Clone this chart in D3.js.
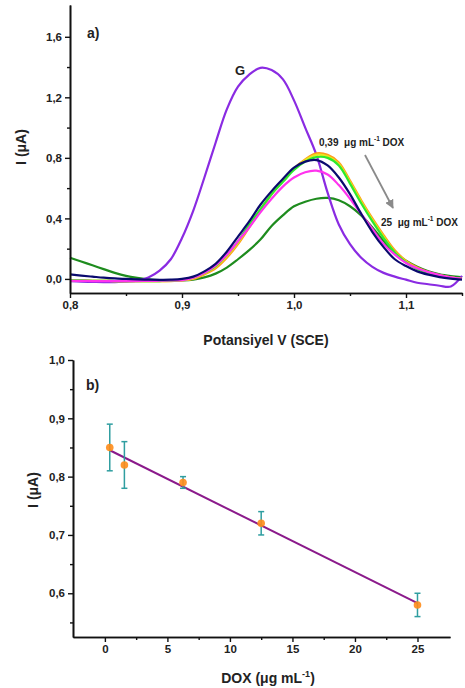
<!DOCTYPE html>
<html>
<head>
<meta charset="utf-8">
<script src="https://cdn.jsdelivr.net/npm/d3@7"></script>
<style>
  body { margin: 0; background: #fff; }
  svg text { font-family: "Liberation Sans", Arial, sans-serif; font-weight: bold; fill: #222; }
</style>
</head>
<body>
<svg width="465" height="688"></svg>
<script>
// ---- panel a) voltammograms ----
const potential = [0.80, 0.81, 0.82, 0.83, 0.84, 0.85, 0.86, 0.87, 0.88, 0.89,
                   0.90, 0.91, 0.92, 0.93, 0.94, 0.95, 0.96, 0.97, 0.98, 0.99,
                   1.00, 1.01, 1.02, 1.03, 1.04, 1.05, 1.06, 1.07, 1.08, 1.09,
                   1.10, 1.11, 1.12, 1.13, 1.14, 1.15];

const curveG = [-0.015, -0.018, -0.02, -0.021, -0.022, -0.018, -0.012, 0.01, 0.055, 0.13,
                0.27, 0.45, 0.67, 0.9, 1.12, 1.27, 1.35, 1.395, 1.38, 1.32,
                1.18, 1.0, 0.82, 0.57, 0.36, 0.23, 0.14, 0.08, 0.04, 0.015,
                -0.005, -0.025, -0.035, -0.045, -0.05, 0.02];
const curveOrange = [-0.01, -0.01, -0.012, -0.013, -0.014, -0.015, -0.015, -0.015, -0.015, -0.014,
                     -0.01, 0.0, 0.03, 0.07, 0.14, 0.23, 0.34, 0.45, 0.56, 0.65,
                     0.73, 0.79, 0.83, 0.82, 0.77, 0.65, 0.52, 0.4, 0.29, 0.19,
                     0.12, 0.075, 0.045, 0.025, 0.01, 0.0];
const curveYellow = [-0.01, -0.01, -0.012, -0.013, -0.014, -0.015, -0.015, -0.015, -0.015, -0.013,
                     -0.008, 0.004, 0.035, 0.08, 0.15, 0.24, 0.35, 0.46, 0.56, 0.65,
                     0.73, 0.785, 0.82, 0.81, 0.76, 0.64, 0.51, 0.39, 0.28, 0.18,
                     0.115, 0.07, 0.04, 0.02, 0.008, 0.0];
const curveLime = [-0.01, -0.01, -0.012, -0.013, -0.014, -0.015, -0.015, -0.015, -0.014, -0.012,
                   -0.006, 0.008, 0.04, 0.085, 0.16, 0.25, 0.36, 0.46, 0.56, 0.64,
                   0.72, 0.775, 0.805, 0.8, 0.75, 0.63, 0.5, 0.38, 0.27, 0.175,
                   0.11, 0.065, 0.037, 0.018, 0.006, 0.0];
const curveNavy = [0.03, 0.022, 0.015, 0.008, 0.003, 0.0, -0.003, -0.005, -0.006, -0.005,
                   0.0, 0.015, 0.05, 0.1, 0.18, 0.28, 0.38, 0.49, 0.58, 0.66,
                   0.735, 0.775, 0.785, 0.75, 0.67, 0.56, 0.43, 0.31, 0.21, 0.13,
                   0.085, 0.05, 0.028, 0.012, 0.002, -0.004];
const curveMagenta = [-0.012, -0.013, -0.014, -0.015, -0.015, -0.015, -0.014, -0.013, -0.012, -0.01,
                      -0.008, 0.008, 0.04, 0.09, 0.16, 0.25, 0.34, 0.44, 0.53, 0.61,
                      0.67, 0.705, 0.715, 0.69, 0.62, 0.53, 0.43, 0.33, 0.23, 0.16,
                      0.105, 0.07, 0.045, 0.025, 0.01, 0.0];
const curveDarkGreen = [0.14, 0.115, 0.09, 0.065, 0.04, 0.02, 0.007, -0.002, -0.008, -0.01,
                        -0.01, -0.005, 0.01, 0.035, 0.075, 0.13, 0.19, 0.26, 0.35, 0.42,
                        0.48, 0.51, 0.53, 0.535, 0.52, 0.48, 0.42, 0.34, 0.25, 0.17,
                        0.12, 0.08, 0.05, 0.03, 0.018, 0.01];

const seriesA = [
  { name: "dox25", values: curveDarkGreen, color: "#1e8c1e" },
  { name: "G", values: curveG, color: "#8a2be2" },
  { name: "orange", values: curveOrange, color: "#ff9a1a" },
  { name: "yellow", values: curveYellow, color: "#e6e620" },
  { name: "lime", values: curveLime, color: "#2ee82e" },
  { name: "magenta", values: curveMagenta, color: "#ff33ee" },
  { name: "navy", values: curveNavy, color: "#0a0a6e" }
];

// ---- panel b) calibration ----
const doxConc = [0.39, 1.56, 6.25, 12.5, 25];
const doxCurrent = [0.85, 0.82, 0.79, 0.72, 0.58];
const doxError = [0.04, 0.04, 0.01, 0.02, 0.02];

const svg = d3.select("svg");
const fmt = d => d3.format(".1f")(d).replace(".", ",");

// ================= panel a =================
const ax = d3.scaleLinear().domain([0.8, 1.15]).range([70, 462]);
const ay = d3.scaleLinear().domain([-0.093, 1.81]).range([293, 5]);

const gA = svg.append("g");

const lineA = d3.line()
  .x((d, i) => ax(potential[i]))
  .y(d => ay(d))
  .curve(d3.curveCatmullRom.alpha(0.5));

gA.selectAll(".curve")
  .data(seriesA)
  .enter()
  .append("path")
  .attr("class", "curve")
  .attr("d", d => lineA(d.values))
  .attr("fill", "none")
  .attr("stroke", d => d.color)
  .attr("stroke-width", 2.2);

// axes a
const axA = d3.axisBottom(ax).tickValues([0.8, 0.9, 1.0, 1.1]).tickFormat(fmt).tickSize(5).tickSizeOuter(0);
const axAMinor = d3.axisBottom(ax).tickValues([0.85, 0.95, 1.05, 1.15]).tickFormat("").tickSize(3).tickSizeOuter(0);
const ayA = d3.axisLeft(ay).tickValues([0, 0.4, 0.8, 1.2, 1.6]).tickFormat(fmt).tickSize(5).tickSizeOuter(0);
const ayAMinor = d3.axisLeft(ay).tickValues([0.2, 0.6, 1.0, 1.4]).tickFormat("").tickSize(3).tickSizeOuter(0);

[axA, axAMinor].forEach(a => gA.append("g").attr("class", "axis").attr("transform", "translate(0,293)").call(a));
[ayA, ayAMinor].forEach(a => gA.append("g").attr("class", "axis").attr("transform", "translate(70,0)").call(a));

gA.append("text").text("Potansiyel V (SCE)")
  .attr("x", 266).attr("y", 345).attr("text-anchor", "middle").attr("font-size", 14);
gA.append("text").text("I (\u03bcA)")
  .attr("transform", "rotate(-90)")
  .attr("x", -147).attr("y", 26).attr("text-anchor", "middle").attr("font-size", 14);
gA.append("text").text("a)").attr("x", 87).attr("y", 38).attr("font-size", 14);
gA.append("text").text("G").attr("x", 240).attr("y", 75).attr("text-anchor", "middle").attr("font-size", 13);

// annotation
function doxLabel(x, y, num) {
  const t = gA.append("text").attr("x", x).attr("y", y).attr("font-size", 10);
  t.append("tspan").text(num + "\u00a0\u00a0\u03bcg mL");
  t.append("tspan").text("-1").attr("dy", -5).attr("font-size", 6.5);
  t.append("tspan").text("\u00a0DOX").attr("dy", 5);
}
doxLabel(319, 146, "0,39");
doxLabel(381, 226, "25");

svg.append("defs").append("marker")
  .attr("id", "arrow").attr("viewBox", "0 0 10 10")
  .attr("refX", 9).attr("refY", 5)
  .attr("markerWidth", 5).attr("markerHeight", 5)
  .attr("orient", "auto")
  .append("path").attr("d", "M0,0L10,5L0,10Z").attr("fill", "#8a8a8a");
gA.append("line")
  .attr("x1", 365).attr("y1", 155).attr("x2", 393).attr("y2", 208)
  .attr("stroke", "#8a8a8a").attr("stroke-width", 1.8)
  .attr("marker-end", "url(#arrow)");

// ================= panel b =================
const bx = d3.scaleLinear().domain([-2.55, 27.6]).range([73, 450]);
const by = d3.scaleLinear().domain([0.525, 1.0]).range([637, 360]);

const gB = svg.append("g");

// least squares fit
const mx = d3.mean(doxConc), my = d3.mean(doxCurrent);
const slope = d3.sum(doxConc, (x, i) => (x - mx) * (doxCurrent[i] - my)) / d3.sum(doxConc, x => (x - mx) ** 2);
const intercept = my - slope * mx;
const xr = d3.extent(doxConc);
gB.append("line")
  .attr("x1", bx(xr[0])).attr("y1", by(intercept + slope * xr[0]))
  .attr("x2", bx(xr[1])).attr("y2", by(intercept + slope * xr[1]))
  .attr("stroke", "#8b1a8b").attr("stroke-width", 2);

const pts = gB.selectAll(".pt")
  .data(doxConc.map((c, i) => ({ c, v: doxCurrent[i], e: doxError[i] })))
  .enter().append("g").attr("class", "pt");

pts.append("line")
  .attr("x1", d => bx(d.c)).attr("x2", d => bx(d.c))
  .attr("y1", d => by(d.v - d.e)).attr("y2", d => by(d.v + d.e))
  .attr("stroke", "#2f9ea0").attr("stroke-width", 1.5);
[1, -1].forEach(s => {
  pts.append("line")
    .attr("x1", d => bx(d.c) - 3).attr("x2", d => bx(d.c) + 3)
    .attr("y1", d => by(d.v + s * d.e)).attr("y2", d => by(d.v + s * d.e))
    .attr("stroke", "#2f9ea0").attr("stroke-width", 1.5);
});
pts.append("circle")
  .attr("cx", d => bx(d.c)).attr("cy", d => by(d.v))
  .attr("r", 3.8).attr("fill", "#ff8c1a").attr("opacity", 0.9);

const bxAxis = d3.axisBottom(bx).tickValues([0, 5, 10, 15, 20, 25]).tickFormat(d3.format("d")).tickSize(5).tickSizeOuter(0);
const bxMinor = d3.axisBottom(bx).tickValues([2.5, 7.5, 12.5, 17.5, 22.5]).tickFormat("").tickSize(3).tickSizeOuter(0);
const byAxis = d3.axisLeft(by).tickValues([0.6, 0.7, 0.8, 0.9, 1.0]).tickFormat(fmt).tickSize(5).tickSizeOuter(0);
const byMinor = d3.axisLeft(by).tickValues([0.55, 0.65, 0.75, 0.85, 0.95]).tickFormat("").tickSize(3).tickSizeOuter(0);

[bxAxis, bxMinor].forEach(a => gB.append("g").attr("class", "axis").attr("transform", "translate(0,637)").call(a));
[byAxis, byMinor].forEach(a => gB.append("g").attr("class", "axis").attr("transform", "translate(73,0)").call(a));

const xt = gB.append("text").attr("x", 268).attr("y", 683).attr("text-anchor", "middle").attr("font-size", 14);
xt.append("tspan").text("DOX (\u03bcg mL");
xt.append("tspan").text("-1").attr("dy", -6).attr("font-size", 9);
xt.append("tspan").text(")").attr("dy", 6);

gB.append("text").text("I (\u03bcA)")
  .attr("transform", "rotate(-90)")
  .attr("x", -490).attr("y", 38).attr("text-anchor", "middle").attr("font-size", 14);
gB.append("text").text("b)").attr("x", 86).attr("y", 390).attr("font-size", 14);

// axis styling
svg.selectAll(".axis path").attr("stroke", "#111").attr("stroke-width", 1.6);
svg.selectAll(".axis line").attr("stroke", "#111").attr("stroke-width", 1.4);
svg.selectAll(".axis text")
  .attr("font-size", 11.5)
  .attr("font-family", "Liberation Sans, Arial, sans-serif")
  .attr("font-weight", "bold")
  .attr("fill", "#333");
</script>
</body>
</html>
